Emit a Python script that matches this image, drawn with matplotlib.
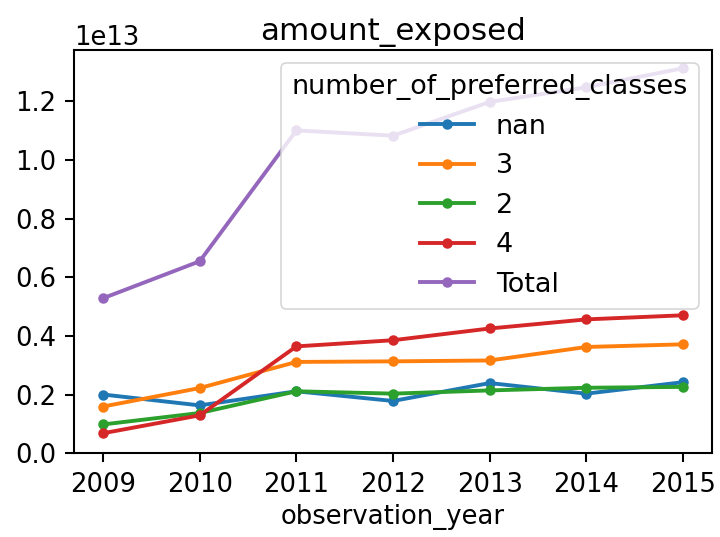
import matplotlib
matplotlib.use("Agg")
import matplotlib.pyplot as plt

years = [2009, 2010, 2011, 2012, 2013, 2014, 2015]
series_names = ["nan", "3", "2", "4"]
vals_nan = [0.201e13, 0.164e13, 0.212e13, 0.179e13, 0.240e13, 0.204e13, 0.243e13]
vals_3 = [0.160e13, 0.223e13, 0.312e13, 0.314e13, 0.317e13, 0.363e13, 0.372e13]
vals_2 = [0.099e13, 0.138e13, 0.212e13, 0.204e13, 0.215e13, 0.224e13, 0.227e13]
vals_4 = [0.069e13, 0.130e13, 0.365e13, 0.386e13, 0.426e13, 0.457e13, 0.471e13]
vals_total = [sum(v) for v in zip(vals_nan, vals_3, vals_2, vals_4)]

s = 1.55
plt.rcParams.update({
    "font.size": 10 * s,
    "lines.linewidth": 1.5 * s,
    "lines.markersize": 6.8 * s,
    "axes.linewidth": 0.8 * s,
    "xtick.major.size": 3.5 * s,
    "ytick.major.size": 3.5 * s,
    "xtick.major.width": 0.8 * s,
    "ytick.major.width": 0.8 * s,
    "xtick.major.pad": 3.5 * s,
    "ytick.major.pad": 3.5 * s,
})

fig, ax = plt.subplots(figsize=(6, 4.475), dpi=120)
for name, vals in zip(series_names + ["Total"], [vals_nan, vals_3, vals_2, vals_4, vals_total]):
    ax.plot(years, vals, marker=".", label=name)

ax.set_title("amount_exposed")
ax.set_xlabel("observation_year")
ax.set_xticks(years)
ax.set_ylim(bottom=0)
ax.legend(title="number_of_preferred_classes", loc="upper right",
          fontsize=16.2, title_fontsize=16.2)
fig.subplots_adjust(left=0.1028, right=0.989, top=0.907, bottom=0.1555)
fig.savefig("out.png", dpi=120)
